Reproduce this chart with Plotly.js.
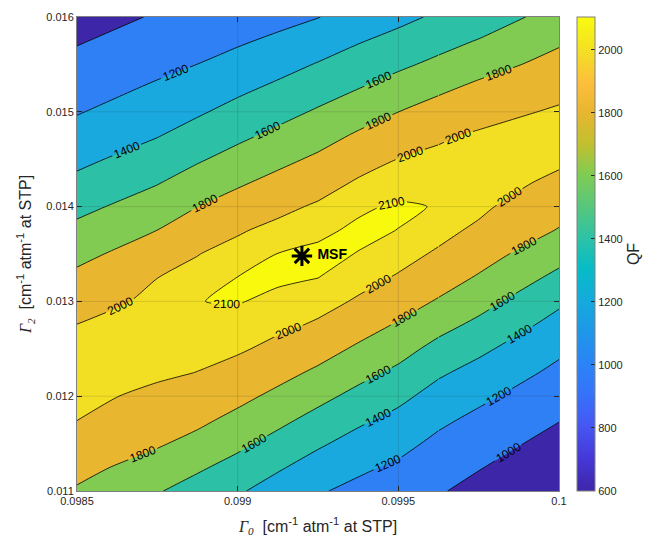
<!DOCTYPE html>
<html><head><meta charset="utf-8">
<script src="https://cdn.plot.ly/plotly-3.0.1.min.js"></script>
<style>body{margin:0;background:#fff}#chart{width:654px;height:537px}</style>
</head><body><div id="chart"></div>
<script>
// Gamma0 columns (x) and Gamma2 rows (y, listed top to bottom)
const gamma0 = [0.0985, 0.09875, 0.098875, 0.099, 0.099125, 0.09925, 0.099375, 0.0995, 0.099625, 0.09975, 0.1];
const gamma2 = [0.016, 0.01575, 0.0155, 0.01525, 0.015, 0.01475, 0.0145, 0.01425, 0.014, 0.01375, 0.0135,
                0.01325, 0.013, 0.01275, 0.0125, 0.01225, 0.012, 0.01175, 0.0115, 0.01125, 0.011];

// QF read along each Gamma0 column, top (0.016) to bottom (0.011)
const qf_098500 = [917, 985, 1053, 1120, 1188, 1270, 1354, 1446, 1547, 1648, 1749, 1841, 1924, 2003, 2037, 2069, 2035, 2002, 1929, 1855, 1781];
const qf_098750 = [1017, 1085, 1153, 1225, 1308, 1391, 1490, 1591, 1696, 1801, 1900, 1999, 2039, 2079, 2062, 2023, 1968, 1894, 1820, 1721, 1614];
const qf_098875 = [1026, 1114, 1201, 1289, 1377, 1476, 1579, 1688, 1798, 1897, 1996, 2040, 2099, 2080, 2037, 1998, 1919, 1840, 1743, 1628, 1520];
const qf_099000 = [1082, 1175, 1268, 1361, 1459, 1560, 1666, 1776, 1881, 1984, 2050, 2102, 2104, 2072, 2020, 1943, 1850, 1750, 1643, 1533, 1423];
const qf_099125 = [1138, 1236, 1335, 1435, 1538, 1643, 1751, 1856, 1959, 2041, 2102, 2111, 2084, 2031, 1959, 1860, 1757, 1647, 1535, 1422, 1317];
const qf_099250 = [1195, 1303, 1411, 1516, 1621, 1727, 1831, 1931, 2021, 2085, 2115, 2101, 2046, 1982, 1876, 1768, 1653, 1539, 1426, 1320, 1217];
const qf_099375 = [1280, 1385, 1491, 1596, 1711, 1824, 1930, 2020, 2088, 2113, 2098, 2044, 1985, 1880, 1772, 1660, 1547, 1434, 1331, 1232, 1154];
const qf_099500 = [1350, 1458, 1565, 1681, 1799, 1902, 2003, 2065, 2110, 2099, 2043, 1988, 1885, 1781, 1671, 1560, 1447, 1347, 1255, 1170, 1095];
const qf_099625 = [1430, 1533, 1643, 1765, 1875, 1980, 2031, 2075, 2096, 2038, 1983, 1885, 1783, 1661, 1542, 1427, 1329, 1236, 1157, 1087, 1018];
const qf_099750 = [1490, 1609, 1727, 1840, 1943, 2018, 2058, 2071, 2030, 1975, 1880, 1782, 1670, 1556, 1440, 1337, 1240, 1157, 1084, 1011, 938];
const qf_100000 = [1678, 1774, 1863, 1949, 2021, 2072, 2029, 1964, 1878, 1789, 1670, 1552, 1433, 1332, 1237, 1155, 1081, 1007, 933, 858, 784];

const levels = [1000, 1200, 1400, 1600, 1800, 2000];
const topLevel = 2100;

const msfX = [0.0992];
const msfY = [0.01348];
const msfLabel = ['\u00a0MSF'];

const xTicks = [0.0985, 0.099, 0.0995, 0.1];
const xTickText = ['0.0985', '0.099', '0.0995', '0.1'];
const yTicks = [0.011, 0.012, 0.013, 0.014, 0.015, 0.016];
const yTickText = ['0.011', '0.012', '0.013', '0.014', '0.015', '0.016'];
const cbTicks = [600, 800, 1000, 1200, 1400, 1600, 1800, 2000];
const cbMin = 600, cbMax = 2104;

// band colours (parula)
const bandColors = ['#3e26a8', '#2f80f4', '#1aa9de', '#2cc1a7', '#82cb53', '#e9b630', '#f2df23'];
const peakColor = '#f9f90e';
const parula = [
  [0.00, '#3e26a8'], [0.07, '#4638d8'], [0.14, '#4658f3'], [0.21, '#3574fb'],
  [0.27, '#2a84f5'], [0.34, '#1e98e8'], [0.40, '#14aadc'], [0.47, '#07bcc6'],
  [0.53, '#2bc2a8'], [0.60, '#56c77c'], [0.67, '#82cc52'], [0.73, '#c0c030'],
  [0.80, '#e8b630'], [0.86, '#fdbe3c'], [0.93, '#f3e023'], [1.00, '#f9fb0e']
];

// build matrix (rows ascending in y)
const columns = [qf_098500, qf_098750, qf_098875, qf_099000, qf_099125, qf_099250,
                 qf_099375, qf_099500, qf_099625, qf_099750, qf_100000];
const yAsc = gamma2.slice().reverse();
const zAsc = gamma2.map((_, r) => columns.map(c => c[r])).reverse();

// step colourscale: nc+1 bands spread evenly
const nb = bandColors.length;
const stepScale = [];
bandColors.forEach((c, k) => {
  const a = k === 0 ? 0 : (2 * k - 1) / (2 * (nb - 1));
  const b = k === nb - 1 ? 1 : (2 * k + 1) / (2 * (nb - 1));
  stepScale.push([a, c], [b, c]);
});
const peakScale = [[0, 'rgba(0,0,0,0)'], [0.5, 'rgba(0,0,0,0)'], [0.5, peakColor], [1, peakColor]];

const lineStyle = {color: '#000', width: 0.8, smoothing: 0.6};
const noLine = {color: 'rgba(0,0,0,0)', width: 0, smoothing: 0.6};
const labelFont = {family: 'Liberation Sans, Arial, sans-serif', size: 12, color: '#000'};

function fillTrace(lo, hi, step, scale) {
  return {
    type: 'contour', x: gamma0, y: yAsc, z: zAsc, autocontour: false,
    contours: {start: lo, end: hi, size: step, coloring: 'fill', showlines: false},
    colorscale: scale, showscale: false, line: noLine, hoverinfo: 'skip'
  };
}
function lineTrace(a, b, lo, hi, step) {
  return {
    type: 'contour', x: gamma0.slice(a, b + 1), y: yAsc, z: zAsc.map(r => r.slice(a, b + 1)),
    autocontour: false,
    contours: {start: lo, end: hi, size: step, coloring: 'none', showlabels: true, labelfont: labelFont},
    showscale: false, line: lineStyle, hoverinfo: 'skip'
  };
}

const last = gamma0.length - 1;
const lvStep = levels[1] - levels[0];
const lvEnd = levels[levels.length - 1];
// full-field fills, then contour lines + labels drawn in three column strips
const strips = [[0, 5], [5, 8], [8, last]];
const traces = [
  fillTrace(levels[0], lvEnd, lvStep, stepScale),
  fillTrace(topLevel, topLevel, 100, peakScale)
];
strips.forEach(([a, b]) => traces.push(lineTrace(a, b, levels[0], lvEnd, lvStep)));
strips.forEach(([a, b]) => traces.push(lineTrace(a, b, topLevel, topLevel, 100)));

traces.push({
  type: 'scatter', mode: 'markers', x: [gamma0[0]], y: [yAsc[0]],
  marker: {color: [cbMin], cmin: cbMin, cmax: cbMax, colorscale: parula, opacity: 0, size: 1,
    showscale: true,
    colorbar: {x: 1.0366, xanchor: 'left', y: 0.5, yanchor: 'middle', len: 1, lenmode: 'fraction',
      thickness: 18, thicknessmode: 'pixels', xpad: 0, ypad: 0,
      outlinewidth: 1, outlinecolor: '#808080',
      ticks: 'inside', ticklen: 4, tickcolor: '#262626', tickvals: cbTicks,
      tickfont: {size: 11, color: '#262626'},
      title: {text: 'QF', side: 'right', font: {size: 16, color: '#262626'}}}},
  hoverinfo: 'skip', showlegend: false
});
traces.push({
  type: 'scatter', mode: 'markers+text', x: msfX, y: msfY, text: msfLabel,
  textposition: 'middle right',
  textfont: {size: 14, color: '#000', weight: 'bold', family: 'Liberation Sans, Arial, sans-serif'},
  marker: {symbol: 'asterisk-open', size: 17, color: '#000', line: {color: '#000', width: 3}},
  showlegend: false, hoverinfo: 'skip'
});

const serif = "font-family:'Liberation Serif',serif;font-style:italic;";
const xTitle = `<span style="${serif}">Γ</span><sub><span style="${serif}">0</span></sub>\u00a0 [cm<sup>-1</sup> atm<sup>-1</sup> at STP]`;
const yTitle = `<span style="${serif}">Γ</span><sub><span style="${serif}">2</span></sub>\u00a0 [cm<sup>-1</sup> atm<sup>-1</sup> at STP]`;

const gridLine = {color: 'rgba(38,38,38,0.15)', width: 1};
const shapes = xTicks.slice(1, -1).map(v => ({type: 'line', xref: 'x', yref: 'paper', x0: v, x1: v, y0: 0, y1: 1, line: gridLine, layer: 'above'}))
  .concat(yTicks.slice(1, -1).map(v => ({type: 'line', xref: 'paper', yref: 'y', x0: 0, x1: 1, y0: v, y1: v, line: gridLine, layer: 'above'})));

const axisCommon = {
  ticks: 'inside', ticklen: 5, tickcolor: '#262626', tickwidth: 1,
  mirror: 'ticks', showline: true, linecolor: '#808080', linewidth: 1,
  showgrid: false, zeroline: false, automargin: false,
  tickfont: {size: 11, color: '#262626'}
};

const layout = {
  width: 654, height: 537,
  margin: {l: 77, r: 85, t: 17, b: 46},
  paper_bgcolor: '#fff', plot_bgcolor: '#fff',
  font: {family: 'Liberation Sans, Arial, sans-serif', size: 11, color: '#262626'},
  showlegend: false,
  xaxis: Object.assign({}, axisCommon, {range: [xTicks[0], xTicks[xTicks.length - 1]], tickvals: xTicks, ticktext: xTickText,
    title: {text: xTitle, font: {size: 16, color: '#262626'}, standoff: 21}}),
  yaxis: Object.assign({}, axisCommon, {range: [yTicks[0], yTicks[yTicks.length - 1]], tickvals: yTicks, ticktext: yTickText,
    title: {text: yTitle, font: {size: 16, color: '#262626'}, standoff: 10}}),
  shapes: shapes
};

Plotly.newPlot('chart', traces, layout, {staticPlot: true, displayModeBar: false});
</script>
</body></html>
